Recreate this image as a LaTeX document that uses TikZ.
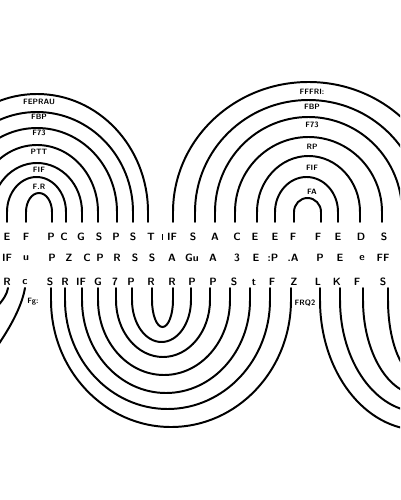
\documentclass[tikz,border=0pt]{standalone}
\usetikzlibrary{calc}
\tikzset{ band/.style = { line width = 1.4pt % wave line
, line cap = round
}
, g/.style = { inner sep = 0pt % glyph in the gap
, font = \sffamily\bfseries\fontsize{7.5}{7.5}\selectfont
}
, lab/.style = { inner sep = 0pt % label inside an arch
, font = \sffamily\bfseries\fontsize{5.5}{5.5}\selectfont
}
}
\def\uparch(#1,#2)#3{% upper arch: left leg, right leg, top
\pgfmathsetmacro{\hw}{(#2-#1)/2}
\pgfmathsetmacro{\ry}{212-#3}
\draw[band] (#1,222) -- (#1,212) arc[start angle=180, end angle=360, x radius=\hw, y radius=\ry] -- (#2,222);
}
\def\dnarch(#1,#2)#3{% lower arch: left leg, right leg, bottom
\pgfmathsetmacro{\hw}{(#2-#1)/2}
\pgfmathsetmacro{\ry}{#3-300}
\draw[band] (#1,288) -- (#1,300) arc[start angle=180, end angle=0, x radius=\hw, y radius=\ry] -- (#2,288);
}
\begin{document}
\begin{tikzpicture}[x=0.25mm, y=-0.25mm]
\useasboundingbox (0,0) rectangle (400,500);
\clip (0,0) rectangle (400,500);
% upper left arches
\uparch(26,52){193} \uparch(7,66){177} \uparch(-8,82){163} \uparch(-24,98){145}
\uparch(-43,117){128} \uparch(-59,133){112} \uparch(-74,148){94}
% upper right arches
\uparch(294,321){198} \uparch(275,338){177} \uparch(257,360){156} \uparch(235,382){137}
\uparch(215,402){117} \uparch(195,422){100} \uparch(173,444){82}
% lower middle arches
\dnarch(152,173){327} \dnarch(132,191){342} \dnarch(116,210){357} \dnarch(98,230){375}
\dnarch(82,250){393} \dnarch(65,270){409} \dnarch(51,291){427}
% lower right arches
\dnarch(320,520){430} \dnarch(340,500){412} \dnarch(363,477){395} \dnarch(388,452){377}
% lower left ends
\draw[band] (25,288) .. controls (22,305) and (12,325) .. (-4,348);
\draw[band] (8,288) .. controls (7,294) and (4,299) .. (-4,308);
\draw[line width=0.7pt] (162,234) -- (162,240);

\foreach[count=\n] \x/\t in {7/E, 26/F, 51/P, 64/C, 81/G, 99/S, 116/P, 133/S, 151/T, 172/IF,
  193/S, 215/A, 237/C, 255/E, 275/E, 293/F, 318/F, 338/E, 361/D, 384/S}
  \node[g] (a\n) at (\x,237) {\t};
\foreach[count=\n] \x/\t in {7/IF, 26/u, 52/P, 69/Z, 87/C, 100/P, 117/R, 135/S, 152/S, 172/A,
  192/Gu, 213/A, 237/3, 256/E, 273/:P, 293/.A, 320/P, 340/E, 362/e, 383/FF}
  \node[g] (b\n) at (\x,258) {\t};
\foreach[count=\n] \x/\t in {7/R, 25/c, 50/S, 65/R, 81/IF, 98/G, 115/7, 131/P, 151/R, 172/R,
  192/P, 213/P, 234/S, 254/t, 272/F, 294/Z, 318/L, 337/K, 357/F, 383/S}
  \node[g] (c\n) at (\x,282) {\t};

\foreach[count=\n] \y/\t in {187/F.R, 170/FIF, 152/PTT, 133/F73, 117/FBP, 102/FEPRAU}
  \node[lab] (l\n) at (39,\y) {\t};
\foreach[count=\n] \y/\t in {192/FA, 168/FIF, 147/RP, 125/F73, 107/FBP, 92/FFFRI:}
  \node[lab] (r\n) at (312,\y) {\t};
\node[lab] (fl) at (33,302) {Fg:};
\node[lab] (fr) at (305,303) {FRQ2};
\end{tikzpicture}
\end{document}
